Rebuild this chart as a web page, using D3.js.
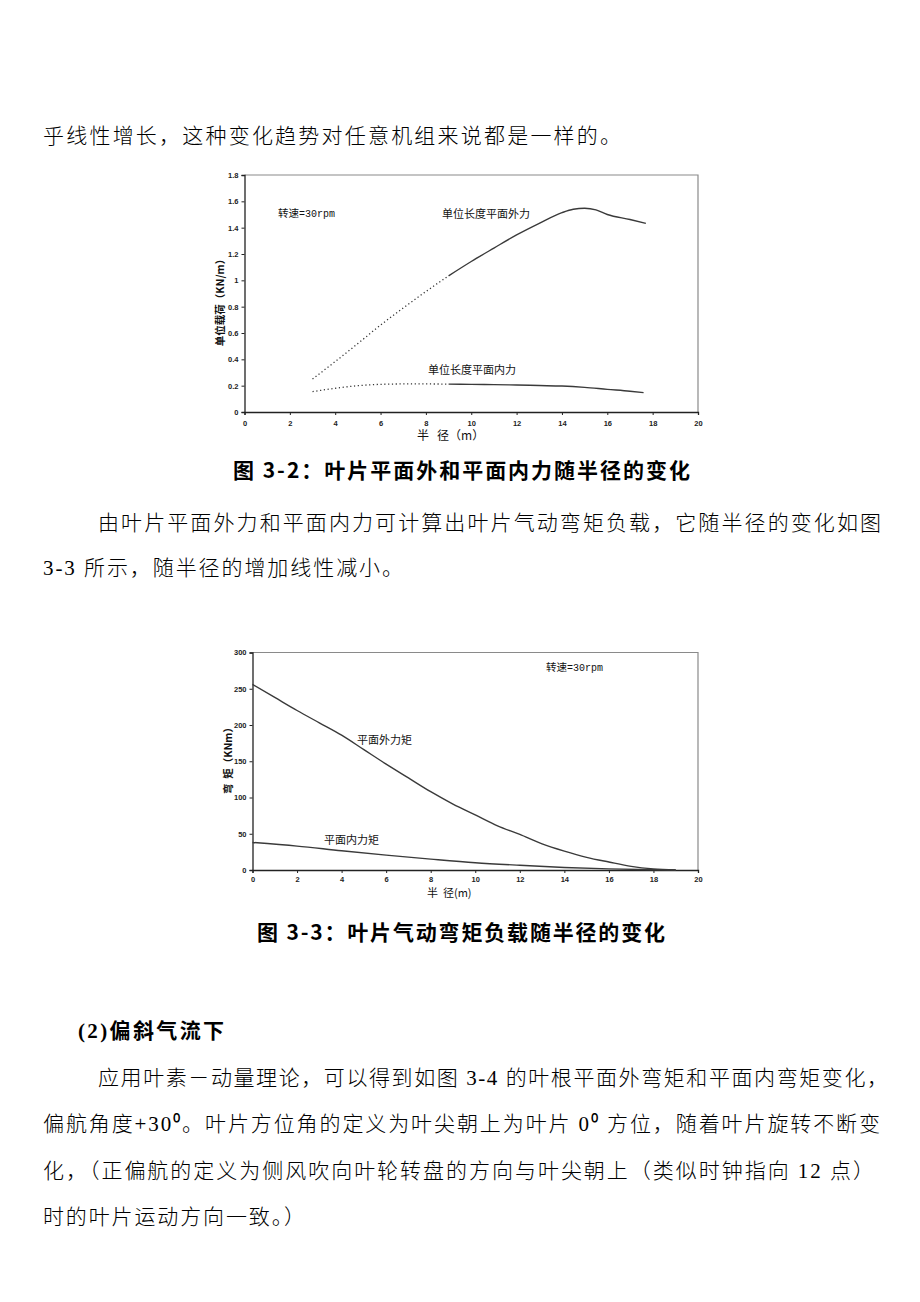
<!DOCTYPE html>
<html>
<head>
<meta charset="utf-8">
<script src="https://cdn.jsdelivr.net/npm/d3@7"></script>
<style>
  html, body { margin: 0; padding: 0; background: #fff; }
  svg { display: block; }
</style>
</head>
<body>
<svg id="page" width="920" height="1302"></svg>
<script>
// ---------- DATA ----------
// Figure 3-2: unit-length loads (KN/m) vs radius (m)
const radiusOutDotted = [3, 4, 5, 6, 7, 8, 9];
const outForceDotted  = [0.25, 0.383, 0.52, 0.66, 0.79, 0.915, 1.034];
const radiusOutSolid  = [9, 10, 11, 12, 13, 14, 14.5, 15, 15.5, 16, 17, 17.7];
const outForceSolid   = [1.034, 1.143, 1.245, 1.345, 1.433, 1.514, 1.54, 1.547, 1.535, 1.50, 1.462, 1.433];
const radiusInDotted  = [3, 4, 5, 6, 7, 8, 9];
const inForceDotted   = [0.155, 0.18, 0.20, 0.21, 0.213, 0.213, 0.212];
const radiusInSolid   = [9, 10, 11, 12, 13, 14, 15, 16, 17, 17.6];
const inForceSolid    = [0.212, 0.21, 0.208, 0.205, 0.201, 0.197, 0.187, 0.172, 0.158, 0.147];
const fig1XTicks = [0, 2, 4, 6, 8, 10, 12, 14, 16, 18, 20];
const fig1YTicks = [0, 0.2, 0.4, 0.6, 0.8, 1, 1.2, 1.4, 1.6, 1.8];

// Figure 3-3: bending moment (KNm) vs radius (m)
const radiusOutMoment = [0, 1, 2, 3, 4, 5, 6, 7, 8, 9, 10, 11, 12, 13, 14, 15, 16, 17, 18, 19];
const outMoment       = [256, 238, 220, 203, 186, 166, 146, 127, 108, 91, 76, 61, 49, 36, 26, 17.5, 11, 5, 1.5, 0];
const radiusInMoment  = [0, 2, 4, 6, 8, 10, 12, 14, 16, 18, 19];
const inMoment        = [38, 33, 26.5, 20.5, 15, 10, 6.5, 3.5, 1.5, 0.3, 0];
const fig2XTicks = [0, 2, 4, 6, 8, 10, 12, 14, 16, 18, 20];
const fig2YTicks = [0, 50, 100, 150, 200, 250, 300];

// ---------- PAGE ----------
const svg = d3.select("#page");
svg.append("rect").attr("width", 920).attr("height", 1302).attr("fill", "#fff");

const bodyFont = "'Liberation Serif', 'Noto Sans CJK SC', serif";
const capFont = "'Noto Sans CJK SC', sans-serif";

function para(txt, x, cy, opts = {}) {
  const t = svg.append("text")
    .attr("x", x).attr("y", cy + 7.5)
    .attr("font-family", opts.family || bodyFont)
    .attr("font-size", opts.size || 21)
    .attr("font-weight", opts.weight || 300)
    .attr("fill", "#000")
    .text(txt);
  if (opts.len) t.attr("textLength", opts.len).attr("lengthAdjust", "spacing");
  return t;
}

para("乎线性增长，这种变化趋势对任意机组来说都是一样的。", 43, 135, {len: 578});
para("图 3-2：叶片平面外和平面内力随半径的变化", 233, 470, {family: capFont, weight: "bold", size: 21, len: 457});
para("由叶片平面外力和平面内力可计算出叶片气动弯矩负载，它随半径的变化如图", 98, 522, {len: 783});
para("3-3 所示，随半径的增加线性减小。", 43, 567, {len: 360});
para("图 3-3：叶片气动弯矩负载随半径的变化", 257, 932, {family: capFont, weight: "bold", size: 21, len: 408});
para("(2)偏斜气流下", 78, 1030, {weight: "bold", len: 146});
para("应用叶素－动量理论，可以得到如图 3-4 的叶根平面外弯矩和平面内弯矩变化，", 98, 1077, {len: 790});
para("偏航角度+30⁰。叶片方位角的定义为叶尖朝上为叶片 0⁰ 方位，随着叶片旋转不断变", 43, 1123, {len: 837});
para("化，（正偏航的定义为侧风吹向叶轮转盘的方向与叶尖朝上（类似时钟指向 12 点）", 43, 1170, {len: 831});
para("时的叶片运动方向一致。）", 43, 1216, {len: 262});

// ---------- CHART HELPERS ----------
const tickFont = "'Liberation Sans', Arial, sans-serif";
const lblFont = "'Noto Sans CJK SC', sans-serif";

function frame(g, x, y) {
  const [x0, x1] = x.range();
  const [y0, y1] = y.range();
  g.append("path")
    .attr("d", `M${x0},${y1}H${x1}V${y0}`)
    .attr("fill", "none").attr("stroke", "#8a8a8a").attr("stroke-width", 1.2);
}

function styleAxis(a) {
  a.selectAll(".domain").attr("stroke", "#222").attr("stroke-width", 1.3);
  a.selectAll(".tick line").attr("stroke", "#222");
  a.selectAll(".tick text")
    .attr("font-family", tickFont).attr("font-size", 7.5)
    .attr("font-weight", "bold").attr("fill", "#222");
}

function curve(g, x, y, xs, ys, dotted) {
  const pts = xs.map((v, i) => [v, ys[i]]);
  g.append("path")
    .attr("d", d3.line().x(d => x(d[0])).y(d => y(d[1])).curve(d3.curveMonotoneX)(pts))
    .attr("fill", "none")
    .attr("stroke", dotted ? "#333" : "#3a3a3a")
    .attr("stroke-width", dotted ? 1.3 : 1.4)
    .attr("stroke-dasharray", dotted ? "1.2,2.6" : null);
}

function label(g, txt, x, cy, size, anchor) {
  return g.append("text").attr("x", x).attr("y", cy + size * 0.38)
    .attr("font-family", lblFont).attr("font-size", size)
    .attr("text-anchor", anchor || "start").attr("fill", "#111").text(txt);
}

function rpm(g, x, cy) {
  const t = g.append("text").attr("x", x).attr("y", cy + 4)
    .attr("font-size", 10.5).attr("fill", "#111");
  t.append("tspan").attr("font-family", lblFont).text("转速");
  t.append("tspan").attr("font-family", "'Liberation Mono', monospace").attr("font-size", 10).text("=30rpm");
}

// ---------- FIGURE 3-2 ----------
{
  const g = svg.append("g");
  const x = d3.scaleLinear().domain([0, 20]).range([244.5, 698]);
  const y = d3.scaleLinear().domain([0, 1.8]).range([412, 175]);
  frame(g, x, y);
  const ax = g.append("g").attr("transform", "translate(0,412)")
    .call(d3.axisBottom(x).tickValues(fig1XTicks).tickSize(3).tickPadding(6).tickFormat(d3.format("d")));
  styleAxis(ax);
  const ay = g.append("g").attr("transform", "translate(244.5,0)")
    .call(d3.axisLeft(y).tickValues(fig1YTicks).tickSize(3).tickPadding(3).tickFormat(d => String(+d.toFixed(1))));
  styleAxis(ay);

  curve(g, x, y, radiusOutDotted, outForceDotted, true);
  curve(g, x, y, radiusOutSolid, outForceSolid, false);
  curve(g, x, y, radiusInDotted, inForceDotted, true);
  curve(g, x, y, radiusInSolid, inForceSolid, false);

  rpm(g, 278, 213);
  label(g, "单位长度平面外力", 442, 214, 11);
  label(g, "单位长度平面内力", 428, 370, 11);

  // axis titles
  g.append("text").attr("transform", "translate(224,300) rotate(-90)")
    .attr("text-anchor", "middle").attr("font-family", lblFont).attr("font-size", 10.5)
    .attr("font-weight", "bold").attr("fill", "#111").text("单位载荷（KN/m）");
  g.append("text").attr("x", 417).attr("y", 440)
    .attr("font-family", lblFont).attr("font-size", 12).attr("fill", "#111")
    .attr("xml:space", "preserve").text("半   径（m）");
}

// ---------- FIGURE 3-3 ----------
{
  const g = svg.append("g");
  const x = d3.scaleLinear().domain([0, 20]).range([252.5, 698]);
  const y = d3.scaleLinear().domain([0, 300]).range([870, 652.5]);
  frame(g, x, y);
  const ax = g.append("g").attr("transform", "translate(0,870)")
    .call(d3.axisBottom(x).tickValues(fig2XTicks).tickSize(3).tickPadding(4).tickFormat(d3.format("d")));
  styleAxis(ax);
  const ay = g.append("g").attr("transform", "translate(252.5,0)")
    .call(d3.axisLeft(y).tickValues(fig2YTicks).tickSize(3).tickPadding(3).tickFormat(d3.format("d")));
  styleAxis(ay);

  curve(g, x, y, radiusOutMoment, outMoment, false);
  curve(g, x, y, radiusInMoment, inMoment, false);

  rpm(g, 546, 667);
  label(g, "平面外力矩", 357, 740, 11);
  label(g, "平面内力矩", 324, 840, 11);

  g.append("text").attr("transform", "translate(232,758) rotate(-90)")
    .attr("text-anchor", "middle").attr("font-family", lblFont).attr("font-size", 10.5)
    .attr("font-weight", "bold").attr("fill", "#111")
    .attr("xml:space", "preserve").text("弯  矩（KNm）");
  g.append("text").attr("x", 427).attr("y", 897)
    .attr("font-family", lblFont).attr("font-size", 11).attr("fill", "#111")
    .attr("xml:space", "preserve").text("半  径(m)");
}
</script>
</body>
</html>
